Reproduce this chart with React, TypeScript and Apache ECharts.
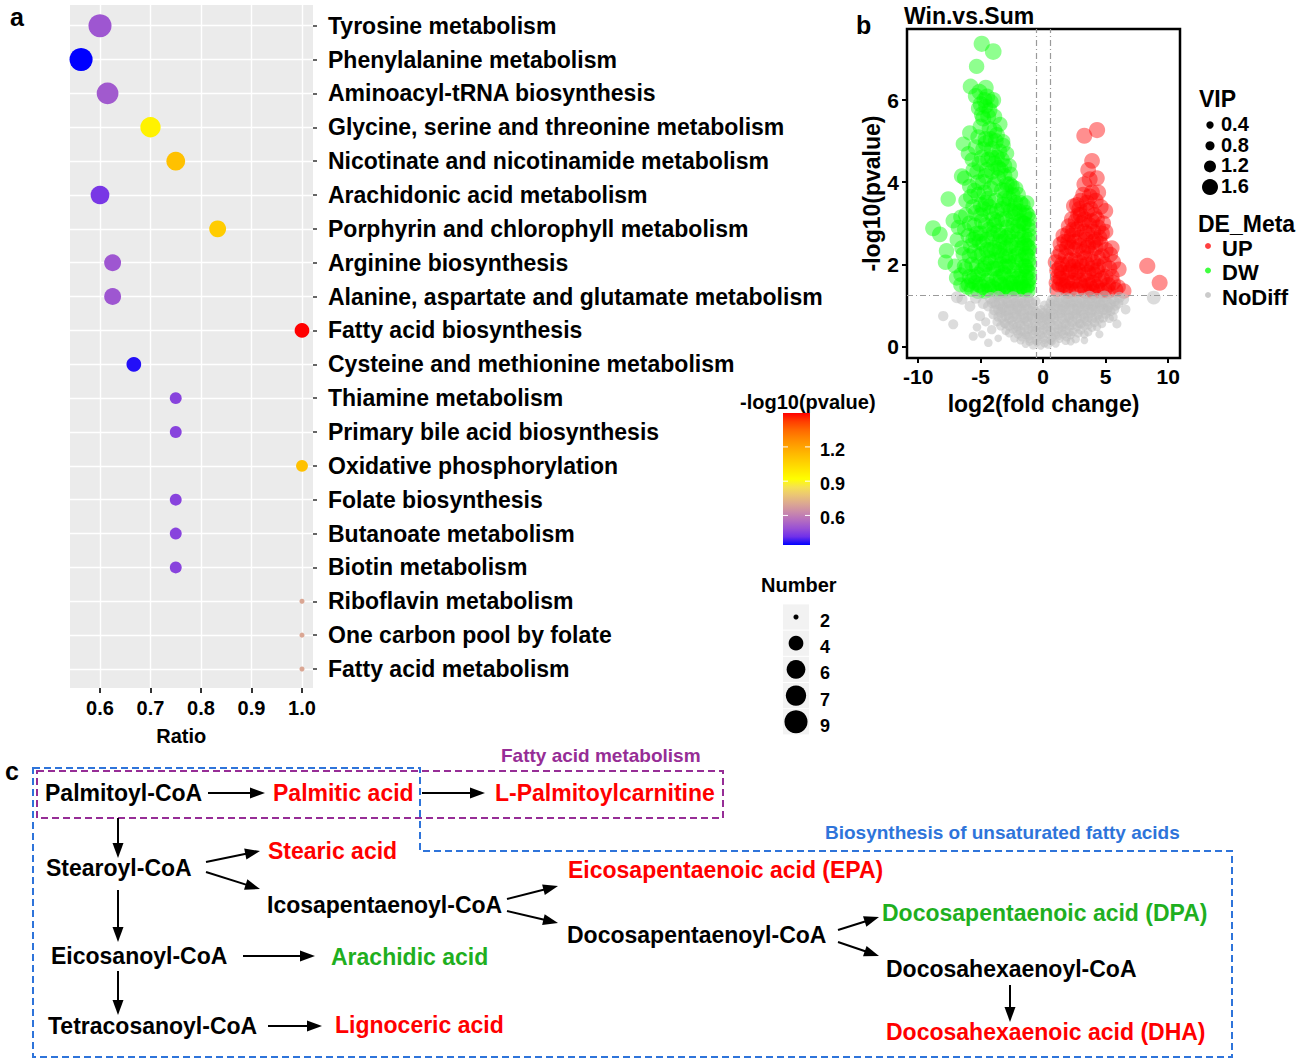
import React, { useEffect, useRef } from "react";
import * as echarts from "echarts";

// ---------- Panel a : KEGG enrichment bubble chart ----------
const pathways = [
  "Tyrosine metabolism",
  "Phenylalanine metabolism",
  "Aminoacyl-tRNA biosynthesis",
  "Glycine, serine and threonine metabolism",
  "Nicotinate and nicotinamide metabolism",
  "Arachidonic acid metabolism",
  "Porphyrin and chlorophyll metabolism",
  "Arginine biosynthesis",
  "Alanine, aspartate and glutamate metabolism",
  "Fatty acid biosynthesis",
  "Cysteine and methionine metabolism",
  "Thiamine metabolism",
  "Primary bile acid biosynthesis",
  "Oxidative phosphorylation",
  "Folate biosynthesis",
  "Butanoate metabolism",
  "Biotin metabolism",
  "Riboflavin metabolism",
  "One carbon pool by folate",
  "Fatty acid metabolism",
];
const ratios = [0.6, 0.5625, 0.615, 0.7, 0.75, 0.6, 0.833, 0.625, 0.625, 1.0, 0.667, 0.75, 0.75, 1.0, 0.75, 0.75, 0.75, 1.0, 1.0, 1.0];
const counts = [9, 9, 8, 7, 6, 6, 5, 5, 5, 4, 4, 3, 3, 3, 3, 3, 3, 2, 2, 2];
const pvals = [0.5, 0.341, 0.51, 0.96, 1.115, 0.43, 1.08, 0.5, 0.5, 1.497, 0.364, 0.457, 0.457, 1.115, 0.457, 0.457, 0.457, 0.7, 0.7, 0.7];

const ratioTicks = [0.6, 0.7, 0.8, 0.9, 1.0];
const colorTicks = [0.6, 0.9, 1.2];
const numberBreaks = [2, 4, 6, 7, 9];

// ---------- Panel b : volcano plot [log2FC, -log10 p, VIP] ----------
const noDiffOuter = [
  [-8.0, 0.74, 1.0], [-7.2, 0.54, 0.95], [-5.6, 0.25, 0.8], [-6.5, 1.15, 1.1], [-5.86, 0.98, 1.05],
  [-5.06, 0.74, 1.0], [-4.39, 0.09, 0.7], [-4.12, 0.41, 0.85], [-6.9, 1.2, 1.2], [-5.4, 1.18, 1.15],
  [-4.8, 1.05, 1.1], [-4.6, 0.6, 0.8], [-5.3, 0.47, 0.7],
  [6.4, 1.15, 1.2], [8.85, 1.19, 1.4], [5.9, 0.55, 0.8], [6.6, 0.9, 0.9], [-4.9, 0.3, 0.6],
  [3.3, 0.15, 0.5], [4.5, 0.3, 0.6], [-3.6, 0.2, 0.5],
];
const noDiffCore = [
  [-4.2, 1.18, 1.2], [-3.6, 1.22, 1.1], [-3.0, 1.16, 1.0], [-2.4, 1.2, 1.2], [-1.8, 1.15, 1.1],
  [-1.2, 1.19, 1.0], [-0.6, 1.1, 0.9], [0.7, 1.15, 0.9], [1.3, 1.2, 1.1], [1.9, 1.17, 1.2],
  [2.5, 1.21, 1.0], [3.1, 1.16, 1.2], [3.7, 1.2, 1.3], [4.3, 1.17, 1.1], [4.9, 1.22, 1.2],
  [5.5, 1.15, 1.0], [6.1, 1.2, 1.1],
  [-3.9, 1.1, 1.2], [-3.3, 1.12, 1.1], [-2.7, 1.1, 1.3], [-2.1, 1.1, 1.2], [-1.5, 1.08, 1.1],
  [-0.9, 1.05, 1.0], [0.9, 1.1, 1.0], [1.5, 1.1, 1.2], [2.1, 1.12, 1.3], [2.7, 1.09, 1.1],
  [3.3, 1.1, 1.2], [3.9, 1.1, 1.0], [4.5, 1.1, 1.2], [5.1, 1.08, 1.1], [5.7, 1.1, 1.0],
  [-4.1, 1.06, 1.0], [-3.5, 1.05, 1.1], [-2.9, 1.06, 1.0], [-2.3, 1.04, 1.1], [-1.7, 1.05, 1.0],
  [-1.1, 1.1, 1.0], [0.1, 1.0, 0.9], [0.6, 1.05, 1.0], [1.2, 1.06, 1.1], [1.8, 1.04, 1.0],
  [2.4, 1.07, 1.1], [3.0, 1.05, 1.0], [3.6, 1.04, 1.1], [4.2, 1.06, 1.0], [4.8, 1.05, 1.1],
  [5.4, 1.03, 1.0], [6.0, 1.05, 1.0],
  [-4.4, 0.98, 1.0], [-3.8, 1.02, 0.9], [-3.2, 0.96, 1.1], [-2.6, 1.0, 1.0], [-2.0, 0.97, 1.2],
  [-1.4, 1.01, 1.0], [-0.8, 0.95, 0.9], [-0.2, 0.9, 0.8], [0.4, 0.93, 0.9], [1.0, 0.99, 1.0],
  [1.6, 0.97, 1.1], [2.2, 1.02, 1.0], [2.8, 0.96, 1.2], [3.4, 1.0, 1.0], [4.0, 0.97, 0.9],
  [4.6, 1.01, 1.1], [5.2, 0.95, 1.0], [5.8, 0.99, 0.9],
  [-3.6, 0.9, 1.0], [-3.0, 0.88, 1.1], [-2.4, 0.9, 1.0], [-1.8, 0.88, 1.2], [-1.2, 0.9, 1.0],
  [-0.6, 0.85, 0.9], [0.0, 0.82, 0.9], [0.6, 0.86, 1.0], [1.2, 0.9, 1.1], [1.8, 0.88, 1.0],
  [2.4, 0.9, 1.2], [3.0, 0.87, 1.0], [3.6, 0.9, 1.1], [4.2, 0.88, 1.0], [4.8, 0.9, 1.1], [5.4, 0.86, 0.9],
  [-3.9, 0.88, 1.0], [-3.3, 0.92, 1.0], [-2.7, 0.9, 1.1], [-2.1, 0.92, 1.0], [-1.5, 0.9, 1.0],
  [-0.9, 0.87, 0.9], [-0.3, 0.75, 0.9], [0.3, 0.8, 0.9], [0.9, 0.92, 1.0], [1.5, 0.9, 1.0],
  [2.1, 0.91, 1.1], [2.7, 0.9, 1.0], [3.3, 0.92, 1.0], [3.9, 0.9, 1.1], [4.5, 0.92, 1.0],
  [5.1, 0.88, 1.0], [5.7, 0.9, 0.9],
  [-4.0, 0.78, 0.9], [-3.4, 0.82, 1.0], [-2.8, 0.77, 0.9], [-2.2, 0.8, 1.0], [-1.6, 0.79, 1.1],
  [-1.0, 0.76, 0.9], [-0.4, 0.8, 1.0], [0.2, 0.74, 0.9], [0.8, 0.79, 1.0], [1.4, 0.81, 0.9],
  [2.0, 0.76, 1.1], [2.6, 0.8, 1.0], [3.2, 0.78, 0.9], [3.8, 0.82, 1.0], [4.4, 0.77, 0.9],
  [5.0, 0.8, 1.0], [5.6, 0.72, 0.8],
  [-3.6, 0.72, 0.9], [-3.0, 0.74, 1.0], [-2.4, 0.72, 0.9], [-1.8, 0.7, 1.0], [-1.2, 0.72, 0.9],
  [-0.6, 0.7, 1.0], [0.0, 0.7, 0.9], [0.6, 0.72, 1.0], [1.2, 0.74, 0.9], [1.8, 0.7, 1.0],
  [2.4, 0.73, 0.9], [3.0, 0.7, 1.0], [3.6, 0.72, 0.9], [4.2, 0.7, 1.0], [4.8, 0.7, 0.9], [5.3, 0.68, 0.8],
  [-3.3, 0.7, 0.9], [-2.7, 0.68, 1.0], [-2.1, 0.7, 1.0], [-1.5, 0.68, 0.9], [-0.9, 0.7, 1.0],
  [-0.3, 0.68, 0.9], [0.3, 0.66, 1.0], [0.9, 0.7, 0.9], [1.5, 0.68, 1.0], [2.1, 0.7, 0.9],
  [2.7, 0.68, 1.0], [3.3, 0.7, 0.9], [3.9, 0.68, 1.0], [4.5, 0.67, 0.8],
  [-3.7, 0.6, 0.8], [-3.1, 0.57, 0.9], [-2.5, 0.62, 0.8], [-1.9, 0.58, 1.0], [-1.3, 0.61, 0.9],
  [-0.7, 0.56, 0.8], [-0.1, 0.6, 0.9], [0.5, 0.58, 1.0], [1.1, 0.62, 0.8], [1.7, 0.57, 0.9],
  [2.3, 0.6, 1.0], [2.9, 0.56, 0.8], [3.5, 0.61, 0.9], [4.1, 0.58, 0.8], [4.7, 0.55, 0.7],
  [-3.4, 0.5, 0.8], [-3.0, 0.55, 0.9], [-2.4, 0.53, 0.8], [-1.8, 0.52, 0.9], [-1.2, 0.55, 0.8],
  [-0.6, 0.5, 0.9], [0.0, 0.52, 0.8], [0.6, 0.55, 0.9], [1.2, 0.52, 0.8], [1.8, 0.54, 0.9],
  [2.4, 0.52, 0.8], [3.0, 0.55, 0.9], [3.6, 0.52, 0.8], [4.3, 0.48, 0.7],
  [-2.7, 0.5, 0.9], [-2.1, 0.48, 0.8], [-1.5, 0.5, 0.9], [-0.9, 0.47, 0.8], [-0.3, 0.5, 0.9],
  [0.3, 0.48, 0.8], [0.9, 0.5, 0.9], [1.5, 0.47, 0.8], [2.1, 0.5, 0.9], [2.7, 0.48, 0.8],
  [3.3, 0.5, 0.7], [3.9, 0.46, 0.7],
  [-3.0, 0.38, 0.7], [-2.4, 0.42, 0.8], [-1.8, 0.37, 0.9], [-1.2, 0.41, 0.8], [-0.6, 0.38, 0.9],
  [0.0, 0.4, 0.8], [0.6, 0.37, 0.9], [1.2, 0.42, 0.8], [1.8, 0.39, 0.9], [2.4, 0.36, 0.7],
  [3.0, 0.4, 0.8], [3.6, 0.35, 0.7],
  [-2.7, 0.33, 0.8], [-2.1, 0.38, 0.8], [-1.5, 0.35, 0.9], [-0.9, 0.38, 0.8], [-0.3, 0.35, 0.9],
  [0.3, 0.38, 0.8], [0.9, 0.35, 0.9], [1.5, 0.37, 0.8], [2.1, 0.35, 0.8], [2.8, 0.32, 0.7], [3.3, 0.3, 0.7],
  [-2.0, 0.3, 0.8], [-1.4, 0.28, 0.7], [-0.8, 0.3, 0.8], [-0.2, 0.28, 0.7], [0.4, 0.3, 0.8],
  [1.0, 0.28, 0.7], [1.6, 0.3, 0.8], [2.2, 0.28, 0.7],
  [-2.3, 0.2, 0.7], [-1.7, 0.23, 0.8], [-1.1, 0.18, 0.7], [-0.5, 0.21, 0.8], [0.1, 0.17, 0.7],
  [0.7, 0.22, 0.8], [1.3, 0.19, 0.7], [1.9, 0.23, 0.8], [2.6, 0.18, 0.7],
  [-1.8, 0.15, 0.7], [-1.2, 0.25, 0.8], [-0.6, 0.15, 0.7], [0.0, 0.22, 0.8], [0.6, 0.15, 0.7],
  [1.2, 0.26, 0.8], [1.8, 0.14, 0.7], [2.2, 0.12, 0.6],
  [-1.1, 0.12, 0.7], [-0.5, 0.1, 0.6], [0.1, 0.08, 0.7], [0.7, 0.12, 0.6],
  [-1.4, 0.06, 0.6], [-0.8, 0.03, 0.7], [-0.2, 0.02, 0.6], [0.4, 0.05, 0.7], [1.0, 0.07, 0.6],
];

const downOuter = [
  [-4.92, 7.37, 1.62], [-4.0, 7.18, 1.66], [-5.33, 6.82, 1.55], [-5.81, 6.33, 1.58], [-5.1, 6.2, 1.6],
  [-4.5, 6.08, 1.64], [-4.2, 5.95, 1.6], [-4.6, 5.85, 1.52], [-5.2, 5.8, 1.48], [-3.9, 5.6, 1.57],
  [-4.8, 5.55, 1.61], [-3.45, 5.41, 1.5], [-5.0, 5.35, 1.63], [-4.3, 5.3, 1.58], [-5.88, 5.2, 1.54],
  [-3.7, 5.15, 1.6], [-4.6, 5.05, 1.62], [-3.2, 5.0, 1.45], [-6.4, 4.93, 1.53], [-5.4, 4.85, 1.6],
  [-4.1, 4.8, 1.66], [-3.5, 4.75, 1.59], [-2.9, 4.7, 1.47], [-4.9, 4.6, 1.6], [-5.7, 4.55, 1.5],
  [-3.9, 4.45, 1.62], [-3.1, 4.4, 1.57], [-4.5, 4.3, 1.6], [-5.3, 4.25, 1.55], [-2.6, 4.2, 1.5],
  [-6.53, 4.15, 1.56], [-3.6, 4.1, 1.6], [-4.8, 4.0, 1.63], [-2.9, 3.95, 1.58], [-5.9, 3.9, 1.52],
  [-4.2, 3.85, 1.6], [-3.3, 3.8, 1.61], [-5.2, 3.7, 1.57], [-2.4, 3.7, 1.48], [-7.6, 3.59, 1.55],
  [-6.2, 3.55, 1.5], [-3.8, 3.55, 1.62], [-4.6, 3.5, 1.6], [-2.8, 3.45, 1.56], [-5.6, 3.4, 1.59],
  [-3.3, 3.35, 1.6], [-1.9, 3.3, 1.5], [-1.35, 3.26, 1.52], [-4.2, 3.25, 1.6], [-5.0, 3.2, 1.58],
  [-6.6, 3.15, 1.52], [-2.4, 3.15, 1.6], [-7.2, 3.06, 1.55], [-3.7, 3.05, 1.6], [-5.9, 3.0, 1.55],
  [-1.5, 3.0, 1.55], [-4.6, 2.95, 1.6], [-2.9, 2.9, 1.58], [-1.1, 2.85, 1.5], [-8.81, 2.88, 1.6],
  [-6.3, 2.85, 1.52], [-2.0, 2.8, 1.6], [-8.27, 2.73, 1.58], [-5.3, 2.75, 1.6], [-3.4, 2.7, 1.57],
  [-4.1, 2.65, 1.62], [-1.2, 2.6, 1.55], [-6.9, 2.6, 1.5], [-2.5, 2.55, 1.6], [-4.8, 2.5, 1.6],
  [-5.8, 2.45, 1.56], [-3.0, 2.4, 1.6], [-1.7, 2.4, 1.58], [-1.1, 2.35, 1.48], [-7.74, 2.33, 1.55],
  [-3.7, 2.3, 1.6], [-6.4, 2.25, 1.53], [-2.2, 2.2, 1.6], [-5.2, 2.2, 1.6], [-4.4, 2.15, 1.59],
  [-1.15, 2.1, 1.55], [-7.82, 2.05, 1.55], [-2.8, 2.05, 1.6], [-3.4, 2.0, 1.58], [-5.7, 2.0, 1.56],
  [-7.07, 1.96, 1.52], [-1.5, 1.95, 1.6], [-4.0, 1.9, 1.6], [-6.2, 1.9, 1.5], [-4.9, 1.85, 1.6],
  [-2.3, 1.85, 1.58], [-1.1, 1.8, 1.52], [-3.1, 1.75, 1.6], [-6.6, 1.75, 1.5], [-1.9, 1.7, 1.57],
  [-5.5, 1.7, 1.58], [-6.93, 1.67, 1.55], [-3.7, 1.65, 1.6], [-4.5, 1.6, 1.6], [-1.2, 1.6, 1.55],
  [-2.6, 1.55, 1.6], [-5.1, 1.5, 1.58], [-6.0, 1.5, 1.5], [-3.3, 1.5, 1.6], [-1.15, 1.5, 1.5],
  [-4.1, 1.45, 1.58], [-1.6, 1.45, 1.57], [-5.73, 1.39, 1.53], [-2.1, 1.38, 1.6], [-2.9, 1.35, 1.58],
  [-4.7, 1.35, 1.6], [-1.2, 1.35, 1.5], [-3.6, 1.33, 1.56],
];
const downCore = [
  [-5.0, 3.45, 1.6], [-4.4, 3.6, 1.6], [-3.1, 3.6, 1.58], [-2.2, 3.5, 1.55], [-1.6, 3.45, 1.5],
  [-1.1, 3.1, 1.52], [-1.1, 2.7, 1.55], [-1.4, 2.25, 1.6], [-2.0, 2.6, 1.6], [-2.7, 2.2, 1.6],
  [-3.2, 2.55, 1.6], [-3.9, 2.4, 1.6], [-4.3, 2.85, 1.6], [-4.9, 3.05, 1.6], [-5.5, 2.95, 1.58],
  [-5.5, 2.3, 1.58], [-4.6, 2.0, 1.6], [-3.8, 2.1, 1.6], [-3.0, 1.95, 1.6], [-2.5, 1.7, 1.6],
  [-1.3, 1.85, 1.6], [-1.1, 2.0, 1.55], [-1.7, 2.1, 1.6], [-2.4, 2.95, 1.6], [-3.6, 2.8, 1.6],
  [-4.0, 3.1, 1.6], [-3.3, 3.1, 1.6], [-2.6, 3.3, 1.6], [-1.8, 3.05, 1.58], [-1.1, 2.4, 1.55],
  [-1.1, 1.65, 1.55], [-1.8, 1.55, 1.6], [-2.6, 1.4, 1.6], [-3.4, 1.7, 1.6], [-4.3, 1.75, 1.6],
  [-5.3, 1.95, 1.6], [-5.9, 2.2, 1.56], [-6.0, 2.7, 1.55], [-5.1, 2.55, 1.6], [-4.5, 2.35, 1.6],
  [-3.5, 2.35, 1.6], [-2.8, 2.7, 1.6], [-2.1, 2.4, 1.6], [-1.5, 2.7, 1.6], [-3.0, 3.8, 1.6],
  [-3.9, 3.95, 1.6], [-4.7, 3.75, 1.6], [-5.5, 3.8, 1.56], [-4.1, 4.6, 1.6], [-3.4, 4.3, 1.6],
  [-2.5, 3.9, 1.55], [-4.6, 4.95, 1.6], [-5.2, 5.1, 1.58], [-3.8, 5.0, 1.6], [-4.4, 5.6, 1.6],
  [-5.0, 5.9, 1.6], [-4.0, 6.0, 1.6], [-4.6, 6.3, 1.6], [-5.6, 4.3, 1.55], [-6.0, 4.7, 1.52],
  [-2.2, 3.25, 1.6], [-1.2, 3.2, 1.52], [-1.3, 3.5, 1.5], [-2.0, 3.7, 1.55], [-2.7, 4.4, 1.5],
  [-3.2, 4.9, 1.52], [-3.0, 2.2, 1.6], [-2.1, 1.65, 1.6], [-1.4, 1.95, 1.6], [-4.9, 1.45, 1.6],
  [-5.4, 1.55, 1.58], [-3.9, 1.4, 1.6], [-3.0, 1.45, 1.6], [-1.5, 1.38, 1.58],
  [-5.7, 1.6, 1.6], [-5.2, 1.75, 1.6], [-4.7, 1.9, 1.6], [-4.2, 2.05, 1.6], [-3.7, 1.9, 1.6],
  [-3.2, 1.8, 1.6], [-2.7, 1.95, 1.6], [-2.2, 2.05, 1.6], [-1.7, 1.85, 1.6], [-1.25, 2.2, 1.58],
  [-5.6, 2.6, 1.6], [-5.0, 2.75, 1.6], [-4.5, 2.6, 1.6], [-4.0, 2.75, 1.6], [-3.5, 2.55, 1.6],
  [-3.0, 2.65, 1.6], [-2.5, 2.8, 1.6], [-2.0, 2.95, 1.6], [-1.5, 2.5, 1.6], [-1.2, 2.95, 1.55],
  [-5.4, 3.25, 1.6], [-4.8, 3.35, 1.6], [-4.3, 3.4, 1.6], [-3.7, 3.3, 1.6], [-3.2, 3.45, 1.6],
  [-2.7, 3.6, 1.6], [-2.3, 3.35, 1.6], [-1.8, 3.5, 1.55], [-1.5, 3.2, 1.55],
  [-5.2, 4.0, 1.6], [-4.6, 4.15, 1.6], [-4.1, 4.25, 1.6], [-3.6, 4.35, 1.6], [-3.1, 4.15, 1.6],
  [-2.7, 3.95, 1.58], [-2.2, 3.85, 1.55],
  [-5.1, 4.45, 1.6], [-4.4, 4.55, 1.6], [-3.7, 4.6, 1.6], [-3.3, 4.55, 1.58], [-4.8, 4.8, 1.6],
  [-4.2, 5.05, 1.6], [-3.9, 5.25, 1.6], [-4.9, 5.65, 1.6], [-4.3, 5.75, 1.6], [-4.7, 6.0, 1.6],
  [-5.4, 6.1, 1.58],
  [-5.9, 1.7, 1.56], [-6.3, 1.95, 1.55], [-6.5, 2.4, 1.55], [-6.2, 3.2, 1.55], [-6.8, 2.9, 1.52],
  [-5.8, 3.65, 1.55], [-6.3, 4.1, 1.52], [-6.1, 1.45, 1.55], [-6.6, 1.5, 1.52],
  [-4.4, 1.5, 1.6], [-3.5, 1.55, 1.6], [-2.4, 1.55, 1.6], [-1.9, 1.4, 1.6], [-1.3, 1.45, 1.58],
  [-5.2, 1.35, 1.6], [-4.3, 1.38, 1.6], [-3.2, 1.38, 1.6], [-2.3, 1.45, 1.6], [-1.4, 1.7, 1.58],
  [-2.0, 2.25, 1.6], [-2.6, 2.45, 1.6], [-3.3, 2.2, 1.6], [-4.2, 2.35, 1.6], [-4.9, 2.25, 1.6],
  [-5.4, 2.65, 1.6], [-1.3, 2.45, 1.58], [-1.7, 2.65, 1.6], [-3.9, 2.95, 1.6], [-3.0, 3.1, 1.6],
  [-1.6, 3.0, 1.58],
];

const upOuter = [
  [3.29, 5.13, 1.6], [4.31, 5.27, 1.62], [3.91, 4.52, 1.58], [3.72, 4.07, 1.6], [3.72, 3.65, 1.62],
  [3.2, 3.7, 1.58], [4.2, 3.55, 1.6], [2.44, 3.42, 1.55], [4.98, 3.3, 1.57], [4.6, 3.4, 1.6],
  [2.9, 3.35, 1.6], [3.5, 3.3, 1.62], [4.1, 3.2, 1.6], [2.03, 2.93, 1.56], [2.6, 3.05, 1.6],
  [3.1, 3.0, 1.6], [3.7, 2.95, 1.62], [4.4, 2.9, 1.6], [5.0, 2.8, 1.55], [1.6, 2.7, 1.55],
  [2.3, 2.7, 1.6], [2.9, 2.65, 1.6], [3.4, 2.6, 1.6], [4.0, 2.55, 1.6], [1.37, 2.49, 1.55],
  [4.6, 2.5, 1.58], [1.9, 2.4, 1.6], [2.6, 2.35, 1.6], [3.2, 2.3, 1.6], [3.8, 2.25, 1.6],
  [5.38, 2.24, 1.55], [1.2, 2.2, 1.55], [4.4, 2.15, 1.6], [2.2, 2.1, 1.6], [2.9, 2.05, 1.6],
  [1.5, 2.0, 1.58], [3.5, 2.0, 1.6], [4.9, 2.0, 1.57], [8.33, 1.96, 1.62], [6.05, 1.88, 1.58],
  [1.1, 1.85, 1.55], [2.0, 1.8, 1.6], [2.6, 1.8, 1.6], [3.3, 1.75, 1.6], [4.1, 1.75, 1.6],
  [5.5, 1.7, 1.56], [1.4, 1.65, 1.6], [4.7, 1.65, 1.6], [1.05, 1.55, 1.55], [2.3, 1.55, 1.6],
  [3.0, 1.5, 1.6], [3.7, 1.5, 1.6], [5.2, 1.5, 1.58], [9.32, 1.55, 1.6], [1.8, 1.45, 1.6],
  [4.3, 1.45, 1.6], [1.1, 1.38, 1.55], [2.7, 1.38, 1.6], [3.4, 1.35, 1.6], [4.9, 1.37, 1.6],
  [5.8, 1.38, 1.57], [6.45, 1.35, 1.55], [2.0, 1.35, 1.6], [4.0, 1.33, 1.6],
];
const upCore = [
  [3.0, 3.55, 1.6], [3.9, 3.05, 1.6], [2.4, 2.85, 1.6], [3.3, 2.8, 1.6], [1.8, 2.2, 1.6],
  [2.5, 2.55, 1.6], [3.6, 2.45, 1.6], [4.2, 2.4, 1.6], [1.3, 1.9, 1.6], [2.4, 1.95, 1.6],
  [3.1, 1.95, 1.6], [3.9, 1.9, 1.6], [4.4, 1.95, 1.6], [1.6, 1.5, 1.6], [2.5, 1.6, 1.6],
  [3.5, 1.6, 1.6], [4.0, 1.55, 1.6], [1.2, 1.7, 1.6], [1.0, 2.05, 1.6], [2.0, 2.55, 1.6],
  [5.3, 1.9, 1.6], [5.0, 2.35, 1.6], [3.3, 3.95, 1.6], [3.0, 3.2, 1.6], [4.4, 3.75, 1.6],
  [4.7, 2.75, 1.6], [5.6, 2.05, 1.6],
  [1.3, 1.5, 1.6], [1.9, 1.6, 1.6], [2.2, 1.4, 1.6], [2.9, 1.6, 1.6], [3.3, 1.45, 1.6],
  [3.9, 1.4, 1.6], [4.5, 1.6, 1.6], [4.6, 1.35, 1.6], [1.5, 1.8, 1.6], [2.2, 1.85, 1.6],
  [2.8, 1.85, 1.6], [3.6, 1.8, 1.6], [4.3, 1.85, 1.6], [5.0, 1.7, 1.58],
  [1.4, 2.3, 1.6], [2.0, 2.0, 1.6], [2.6, 2.1, 1.6], [3.3, 2.15, 1.6], [4.0, 2.05, 1.6],
  [4.7, 2.2, 1.6], [1.7, 2.55, 1.6], [2.3, 2.4, 1.6], [2.9, 2.45, 1.6], [3.5, 2.4, 1.6],
  [4.2, 2.6, 1.6], [2.0, 2.75, 1.6], [2.7, 2.85, 1.6], [3.5, 2.75, 1.6], [4.0, 2.8, 1.6],
  [4.5, 2.65, 1.6], [2.3, 3.1, 1.6], [2.8, 3.2, 1.6], [3.3, 3.1, 1.6], [3.8, 3.35, 1.6],
  [4.3, 3.1, 1.6], [3.5, 3.5, 1.6], [3.9, 3.75, 1.6], [2.7, 3.45, 1.58], [5.2, 1.35, 1.58],
  [5.6, 1.55, 1.56], [6.0, 1.45, 1.55], [5.5, 2.4, 1.55], [4.8, 3.0, 1.58], [4.3, 4.1, 1.58],
  [3.6, 4.3, 1.58],
];

const noDiffPoints = [...noDiffOuter, ...noDiffCore];
const downPoints = [...downOuter, ...downCore];
const upPoints = [...upOuter, ...upCore];

const fcTicks = [-10, -5, 0, 5, 10];
const pTicks = [0, 2, 4, 6];
const vipBreaks = [0.4, 0.8, 1.2, 1.6];
const fcThreshold = 0.585;
const pThreshold = 1.25;

// ---------- Panel c : pathway diagram ----------
const pathNodes = [
  { label: "Palmitoyl-CoA", x: 45, y: 793, kind: "mid" },
  { label: "Palmitic acid", x: 273, y: 793, kind: "up" },
  { label: "L-Palmitoylcarnitine", x: 495, y: 793, kind: "up" },
  { label: "Stearoyl-CoA", x: 46, y: 868, kind: "mid" },
  { label: "Stearic acid", x: 268, y: 851, kind: "up" },
  { label: "Icosapentaenoyl-CoA", x: 267, y: 905, kind: "mid" },
  { label: "Eicosapentaenoic acid (EPA)", x: 568, y: 870, kind: "up" },
  { label: "Docosapentaenoyl-CoA", x: 567, y: 935, kind: "mid" },
  { label: "Docosapentaenoic acid (DPA)", x: 882, y: 913, kind: "down" },
  { label: "Docosahexaenoyl-CoA", x: 886, y: 969, kind: "mid" },
  { label: "Docosahexaenoic acid (DHA)", x: 886, y: 1032, kind: "up" },
  { label: "Eicosanoyl-CoA", x: 51, y: 956, kind: "mid" },
  { label: "Arachidic acid", x: 331, y: 957, kind: "down" },
  { label: "Tetracosanoyl-CoA", x: 48, y: 1026, kind: "mid" },
  { label: "Lignoceric acid", x: 335, y: 1025, kind: "up" },
];
const pathArrows = [
  [208, 793, 265, 793], [422, 793, 485, 793], [118, 818, 118, 858], [206, 862, 260, 851],
  [206, 872, 260, 889], [507, 899, 558, 886], [507, 911, 558, 923], [838, 930, 879, 917],
  [838, 942, 879, 956], [1010, 985, 1010, 1022], [118, 890, 118, 942], [243, 956, 315, 956],
  [118, 971, 118, 1015], [268, 1026, 322, 1026],
];

const FONT = '"Liberation Sans", Arial, Helvetica, sans-serif';
const colorScale = [
  "#0000FF", "#6F30EA", "#9850D5", "#B46DC0", "#CA8AAA", "#DBA792", "#EAC476", "#F5E153",
  "#FFFF00", "#FFE800", "#FFD100", "#FFBA00", "#FFA100", "#FF8500", "#FF6600", "#FF3D00", "#FF0000",
];
const kindColor: Record<string, string> = { mid: "#000000", up: "#FF0000", down: "#1FAF1F" };

const nMin = Math.min(...counts);
const nMax = Math.max(...counts);
const bubbleSize = (n: number) => 1.5 + 3.6 * (1 + 5 * Math.sqrt((n - nMin) / (nMax - nMin)));
const vipSize = (v: number) => 6.8 + 3.6 * v * v;
const pMin = Math.min(...pvals);
const pMax = Math.max(...pvals);

function txt(text: string, x: number, y: number, size: number, color: string, align = "left", weight = "bold") {
  return {
    type: "text",
    x,
    y,
    silent: true,
    style: { text, fill: color, fontSize: size, fontWeight: weight, fontFamily: FONT, align, verticalAlign: "middle" },
  };
}

function arrow(x1: number, y1: number, x2: number, y2: number) {
  const dx = x2 - x1;
  const dy = y2 - y1;
  const L = Math.hypot(dx, dy);
  const ux = dx / L;
  const uy = dy / L;
  const hl = 15;
  const hw = 5.5;
  const bx = x2 - ux * hl;
  const by = y2 - uy * hl;
  return [
    { type: "line", silent: true, shape: { x1, y1, x2: bx + ux * 2, y2: by + uy * 2 }, style: { stroke: "#000", lineWidth: 2 } },
    {
      type: "polygon",
      silent: true,
      shape: { points: [[x2, y2], [bx - uy * hw, by + ux * hw], [bx + uy * hw, by - ux * hw]] },
      style: { fill: "#000" },
    },
  ];
}

function buildOption() {
  const graphics: any[] = [];
  // panel a background
  graphics.push({ type: "rect", z: -10, silent: true, shape: { x: 70, y: 5, width: 243, height: 683 }, style: { fill: "#EBEBEB" } });
  graphics.push(txt("a", 10, 17, 25, "#000"));
  graphics.push(txt("b", 856, 25, 25, "#000"));
  graphics.push(txt("c", 5, 771, 25, "#000"));

  // colour bar legend
  const barX = 783, barY = 413, barW = 27, barH = 132;
  graphics.push(txt("-log10(pvalue)", 740, 402, 20, "#000"));
  const stops = colorScale.slice().reverse().map((c, i) => ({ offset: i / (colorScale.length - 1), color: c }));
  graphics.push({
    type: "rect",
    silent: true,
    shape: { x: barX, y: barY, width: barW, height: barH },
    style: { fill: new echarts.graphic.LinearGradient(0, 0, 0, 1, stops) },
  });
  colorTicks.forEach((v) => {
    const ty = barY + ((pMax - v) / (pMax - pMin)) * barH;
    graphics.push({ type: "line", silent: true, shape: { x1: barX, y1: ty, x2: barX + 5, y2: ty }, style: { stroke: "#fff", lineWidth: 1 } });
    graphics.push({ type: "line", silent: true, shape: { x1: barX + barW - 5, y1: ty, x2: barX + barW, y2: ty }, style: { stroke: "#fff", lineWidth: 1 } });
    graphics.push(txt(v.toFixed(1), 820, ty + 3, 18, "#000"));
  });

  // Number legend
  graphics.push(txt("Number", 761, 585, 20, "#000"));
  numberBreaks.forEach((n, i) => {
    const cy = 617 + i * 26.2;
    graphics.push({ type: "rect", silent: true, shape: { x: 783, y: cy - 12.6, width: 26, height: 25.2 }, style: { fill: "#F2F2F2" } });
    graphics.push({ type: "circle", silent: true, shape: { cx: 796, cy, r: bubbleSize(n) / 2 }, style: { fill: "#000" } });
    graphics.push(txt(String(n), 820, cy + 4, 18, "#000"));
  });

  // volcano title & legends
  graphics.push(txt("Win.vs.Sum", 904, 16, 23, "#000"));
  graphics.push(txt("VIP", 1199, 99, 23, "#000"));
  vipBreaks.forEach((v, i) => {
    const cy = 125 + i * 20.7;
    graphics.push({ type: "circle", silent: true, shape: { cx: 1210, cy, r: vipSize(v) / 2 }, style: { fill: "#000" } });
    graphics.push(txt(v.toFixed(1), 1221, cy - 1, 20, "#000"));
  });
  graphics.push(txt("DE_Meta", 1198, 224, 23, "#000"));
  const deLegend = [
    ["UP", "rgba(255,0,0,0.75)"],
    ["DW", "rgba(0,255,0,0.75)"],
    ["NoDiff", "rgba(190,190,190,0.8)"],
  ];
  deLegend.forEach(([name, col], i) => {
    const cy = 246 + i * 24.5;
    graphics.push({ type: "circle", silent: true, shape: { cx: 1208, cy, r: 3 }, style: { fill: col } });
    graphics.push(txt(name, 1222, cy + 2, 22, "#000"));
  });

  // panel c boxes
  graphics.push({
    type: "polygon",
    silent: true,
    shape: { points: [[33, 768], [420, 768], [420, 851], [1232, 851], [1232, 1057], [33, 1057]] },
    style: { fill: "none", stroke: "#2E74DA", lineWidth: 2, lineDash: [7, 4] },
  });
  graphics.push({
    type: "rect",
    silent: true,
    shape: { x: 37, y: 771, width: 686, height: 47 },
    style: { fill: "none", stroke: "#962D96", lineWidth: 2, lineDash: [7, 4] },
  });
  graphics.push(txt("Fatty acid metabolism", 501, 755, 19, "#962D96"));
  graphics.push(txt("Biosynthesis of unsaturated fatty acids", 825, 832, 19, "#2E74DA"));
  pathNodes.forEach((n) => graphics.push(txt(n.label, n.x, n.y, 23, kindColor[n.kind])));
  pathArrows.forEach((a) => arrow(a[0], a[1], a[2], a[3]).forEach((g) => graphics.push(g)));

  const bubbleData = pathways.map((_, i) => [ratios[i], i, pvals[i], counts[i]]);
  const axisText = { color: "#000", fontWeight: "bold", fontFamily: FONT };

  return {
    animation: false,
    backgroundColor: "#fff",
    textStyle: { fontFamily: FONT },
    grid: [
      { left: 49.5, width: 263.5, top: 5, height: 683 },
      { left: 49.5, width: 263.5, top: 25.7, height: 643.3 },
      { left: 907, width: 273, top: 29, height: 329, show: true, borderColor: "#000", borderWidth: 2.5, backgroundColor: "transparent" },
    ],
    xAxis: [
      {
        type: "value",
        gridIndex: 0,
        min: 0.5,
        max: 1.0218,
        interval: 0.05,
        axisLine: { show: false, onZero: false },
        axisTick: { show: true, customValues: ratioTicks, length: 5, lineStyle: { color: "#333", width: 2 } },
        axisLabel: { customValues: ratioTicks, ...axisText, fontSize: 20, margin: 10, formatter: (v: number) => v.toFixed(1) },
        splitLine: { show: true, lineStyle: { color: "#fff", width: 1.4 } },
        name: "Ratio",
        nameLocation: "middle",
        nameGap: 38,
        nameTextStyle: { ...axisText, fontSize: 20 },
      },
      { type: "value", gridIndex: 1, min: 0.5, max: 1.0218, show: false },
      {
        type: "value",
        gridIndex: 2,
        min: -10.9,
        max: 10.95,
        axisLine: { show: false, onZero: false },
        axisTick: { show: true, customValues: fcTicks, length: 5, lineStyle: { color: "#000", width: 2 } },
        axisLabel: { customValues: fcTicks, ...axisText, fontSize: 21, margin: 8 },
        splitLine: { show: false },
        name: "log2(fold change)",
        nameLocation: "middle",
        nameGap: 34,
        nameTextStyle: { ...axisText, fontSize: 23 },
      },
    ],
    yAxis: [
      { type: "value", gridIndex: 0, min: 0, max: 1, show: false },
      {
        type: "value",
        gridIndex: 1,
        min: 0,
        max: 19,
        interval: 1,
        inverse: true,
        position: "right",
        axisLine: { show: false, onZero: false },
        axisTick: { show: true, length: 4, lineStyle: { color: "#333", width: 1.5 } },
        axisLabel: { ...axisText, fontSize: 23, margin: 15, formatter: (v: number) => pathways[v] ?? "" },
        splitLine: { show: true, lineStyle: { color: "#fff", width: 1.4 } },
      },
      {
        type: "value",
        gridIndex: 2,
        min: -0.28,
        max: 7.73,
        position: "left",
        axisLine: { show: false, onZero: false },
        axisTick: { show: true, customValues: pTicks, length: 5, lineStyle: { color: "#000", width: 2 } },
        axisLabel: { customValues: pTicks, ...axisText, fontSize: 21, margin: 8 },
        splitLine: { show: false },
        name: "-log10(pvalue)",
        nameLocation: "middle",
        nameRotate: 90,
        nameGap: 18,
        nameTextStyle: { ...axisText, fontSize: 23 },
      },
    ],
    visualMap: [
      {
        type: "continuous",
        show: false,
        seriesIndex: 0,
        dimension: 2,
        min: pMin,
        max: pMax,
        inRange: { color: colorScale },
      },
    ],
    series: [
      {
        type: "scatter",
        xAxisIndex: 1,
        yAxisIndex: 1,
        data: bubbleData,
        symbolSize: (val: number[]) => bubbleSize(val[3]),
        itemStyle: { opacity: 1 },
        silent: true,
      },
      {
        type: "scatter",
        xAxisIndex: 2,
        yAxisIndex: 2,
        data: downPoints,
        symbolSize: (val: number[]) => vipSize(val[2]),
        itemStyle: { color: "rgba(0,255,0,0.55)" },
        silent: true,
        markLine: {
          silent: true,
          symbol: "none",
          label: { show: false },
          lineStyle: { color: "#9A9A9A", width: 1.2, type: [6, 3, 1, 3] },
          data: [{ xAxis: -fcThreshold }, { xAxis: fcThreshold }, { yAxis: pThreshold }],
        },
      },
      {
        type: "scatter",
        xAxisIndex: 2,
        yAxisIndex: 2,
        data: upPoints,
        symbolSize: (val: number[]) => vipSize(val[2]),
        itemStyle: { color: "rgba(255,0,0,0.55)" },
        silent: true,
      },
      {
        type: "scatter",
        xAxisIndex: 2,
        yAxisIndex: 2,
        data: noDiffPoints,
        symbolSize: (val: number[]) => vipSize(val[2]),
        itemStyle: { color: "rgba(190,190,190,0.68)" },
        silent: true,
      },
    ],
    graphic: graphics,
  };
}

export default function App() {
  const ref = useRef<HTMLDivElement>(null);
  useEffect(() => {
    if (!ref.current) return;
    const chart = echarts.init(ref.current, null, { renderer: "svg" });
    chart.setOption(buildOption() as any);
    return () => chart.dispose();
  }, []);
  return <div ref={ref} style={{ position: "absolute", left: 0, top: 0, width: 1300, height: 1063, background: "#fff" }} />;
}
